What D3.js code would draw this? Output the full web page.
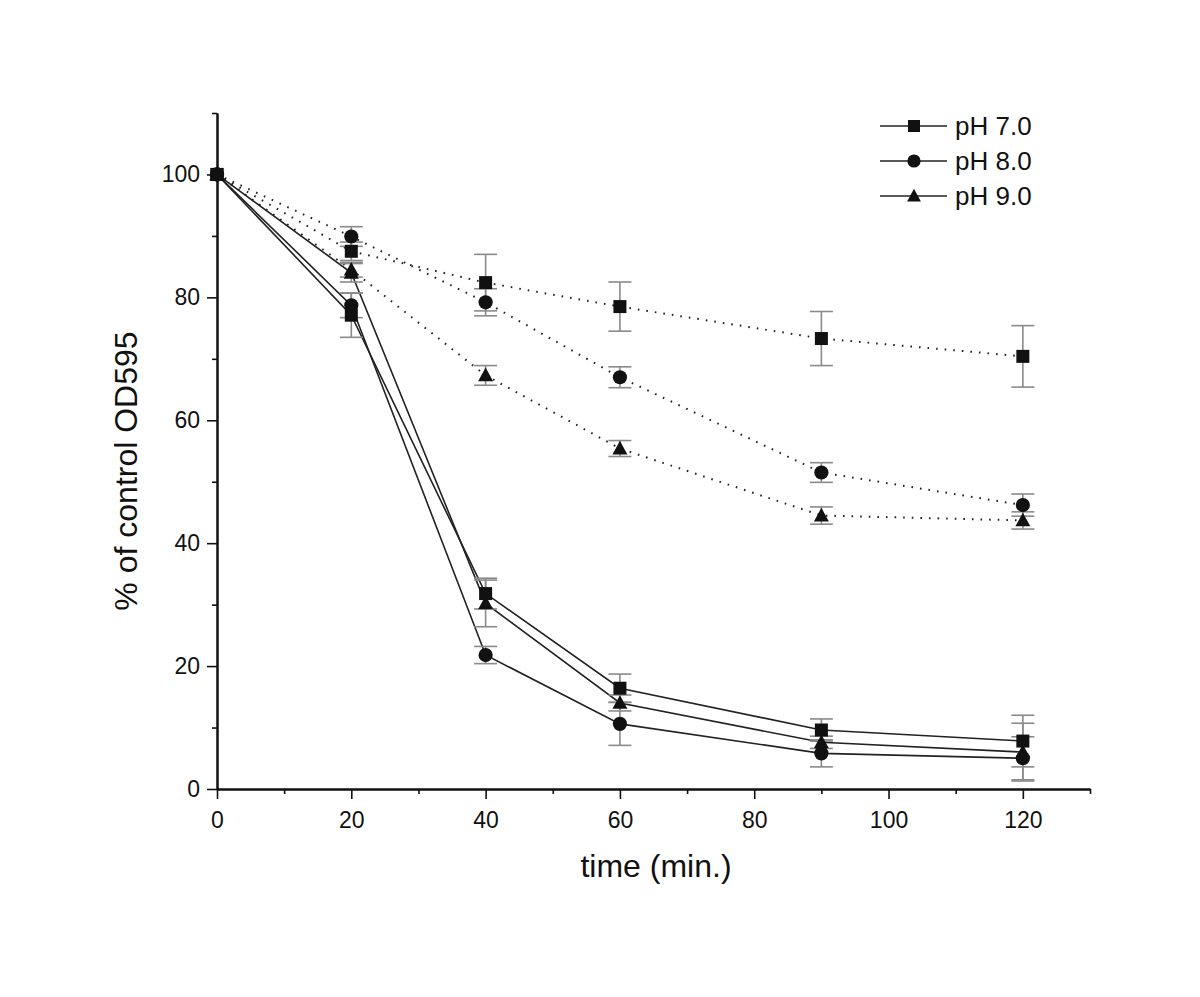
<!DOCTYPE html>
<html>
<head>
<meta charset="utf-8">
<script src="https://cdn.jsdelivr.net/npm/d3@7"></script>
<style>
  html, body { margin: 0; padding: 0; background: #fff; }
  svg { display: block; font-family: "Liberation Sans", Arial, sans-serif; }
</style>
</head>
<body>
<svg id="chart" width="1200" height="997"></svg>
<script>
// ---- data ----
const times = [0, 20, 40, 60, 90, 120];
const xMajorTicks = [0, 20, 40, 60, 80, 100, 120];
const xMinorTicks = [10, 30, 50, 70, 90, 110, 130];
const yMajorTicks = [0, 20, 40, 60, 80, 100];
const yMinorTicks = [10, 30, 50, 70, 90, 110];

// solid-line condition
const ph7Solid = [100, 77.1, 31.8, 16.4, 9.6, 7.8];
const ph7SolidErr = [0, 3.6, 2.5, 2.3, 1.8, 4.2];
const ph8Solid = [100, 78.7, 21.8, 10.6, 5.8, 5.0];
const ph8SolidErr = [0, 2.0, 1.4, 3.5, 2.2, 3.5];
const ph9Solid = [100, 84.0, 30.2, 14.0, 7.6, 6.0];
const ph9SolidErr = [0, 1.5, 3.8, 1.3, 1.0, 4.7];

// dotted-line condition
const ph7Dot = [100, 87.5, 82.4, 78.5, 73.3, 70.4];
const ph7DotErr = [0, 1.5, 4.6, 4.0, 4.4, 5.0];
const ph8Dot = [100, 89.9, 79.2, 67.0, 51.5, 46.2];
const ph8DotErr = [0, 1.6, 2.2, 1.7, 1.6, 1.8];
const ph9Dot = [100, 84.5, 67.3, 55.4, 44.5, 43.7];
const ph9DotErr = [0, 1.2, 1.6, 1.3, 1.4, 1.4];

const legendLabels = ["pH 7.0", "pH 8.0", "pH 9.0"];
const legendShapes = ["square", "circle", "triangle"];

const series = [
  { v: ph7Dot, e: ph7DotErr, shape: "square", dotted: true },
  { v: ph8Dot, e: ph8DotErr, shape: "circle", dotted: true },
  { v: ph9Dot, e: ph9DotErr, shape: "triangle", dotted: true },
  { v: ph7Solid, e: ph7SolidErr, shape: "square", dotted: false },
  { v: ph8Solid, e: ph8SolidErr, shape: "circle", dotted: false },
  { v: ph9Solid, e: ph9SolidErr, shape: "triangle", dotted: false }
];

// ---- scales ----
const svg = d3.select("#chart");
const x = d3.scaleLinear().domain([0, 130]).range([217, 1090]);
const y = d3.scaleLinear().domain([0, 110]).range([789, 113]);

// ---- axes ----
const axisColor = "#111";
function styleAxis(g) {
  g.select(".domain").attr("stroke", axisColor).attr("stroke-width", 2);
  g.selectAll(".tick line").attr("stroke", axisColor).attr("stroke-width", 1.6);
  g.selectAll(".tick text").attr("fill", "#111").attr("font-size", 23);
}
svg.append("g").attr("transform", `translate(0,${y(0)})`)
  .call(d3.axisBottom(x).tickValues(xMinorTicks).tickSize(5).tickFormat("").tickSizeOuter(0))
  .call(styleAxis);
svg.append("g").attr("transform", `translate(0,${y(0)})`)
  .call(d3.axisBottom(x).tickValues(xMajorTicks).tickSize(10).tickPadding(13).tickSizeOuter(0))
  .call(styleAxis);
svg.append("g").attr("transform", `translate(${x(0)},0)`)
  .call(d3.axisLeft(y).tickValues(yMinorTicks).tickSize(5).tickFormat("").tickSizeOuter(0))
  .call(styleAxis);
svg.append("g").attr("transform", `translate(${x(0)},0)`)
  .call(d3.axisLeft(y).tickValues(yMajorTicks).tickSize(10).tickPadding(7).tickSizeOuter(0))
  .call(styleAxis);

// axis titles
svg.append("text")
  .attr("x", 656).attr("y", 877)
  .attr("text-anchor", "middle")
  .attr("font-size", 32).attr("fill", "#111")
  .text("time (min.)");
svg.append("text")
  .attr("transform", "translate(137,471) rotate(-90)")
  .attr("text-anchor", "middle")
  .attr("font-size", 32).attr("fill", "#111")
  .text("% of control OD595");

// ---- marker helper ----
function drawMarker(g, shape, cx, cy, s) {
  if (shape === "square") {
    g.append("rect").attr("x", cx - s / 2).attr("y", cy - s / 2)
      .attr("width", s).attr("height", s).attr("fill", "#111");
  } else if (shape === "circle") {
    g.append("circle").attr("cx", cx).attr("cy", cy).attr("r", s / 2 + 0.6).attr("fill", "#111");
  } else {
    const w = s * 1.15, h = s;
    g.append("path")
      .attr("d", `M${cx},${cy - h * 0.6} L${cx + w / 2},${cy + h * 0.45} L${cx - w / 2},${cy + h * 0.45} Z`)
      .attr("fill", "#111");
  }
}

// ---- lines ----
const line = d3.line().x(d => x(d[0])).y(d => y(d[1]));
const linesG = svg.append("g");
series.forEach(s => {
  linesG.append("path")
    .datum(times.map((t, i) => [t, s.v[i]]))
    .attr("d", line)
    .attr("fill", "none")
    .attr("stroke", "#222")
    .attr("stroke-width", s.dotted ? 2 : 1.6)
    .attr("stroke-dasharray", s.dotted ? "1.6,7" : null);
});

// ---- error bars ----
const errG = svg.append("g").attr("stroke", "#8a8a8a").attr("stroke-width", 1.6);
series.forEach(s => {
  times.forEach((t, i) => {
    const e = s.e[i];
    if (!e) return;
    const cx = x(t), y1 = y(s.v[i] + e), y2 = y(s.v[i] - e);
    errG.append("line").attr("x1", cx).attr("x2", cx).attr("y1", y1).attr("y2", y2);
    errG.append("line").attr("x1", cx - 11.5).attr("x2", cx + 11.5).attr("y1", y1).attr("y2", y1);
    errG.append("line").attr("x1", cx - 11.5).attr("x2", cx + 11.5).attr("y1", y2).attr("y2", y2);
  });
});

// ---- markers ----
const markG = svg.append("g");
series.forEach(s => {
  times.forEach((t, i) => drawMarker(markG, s.shape, x(t), y(s.v[i]), 13));
});

// ---- legend ----
const legG = svg.append("g");
legendLabels.forEach((lab, i) => {
  const ly = 126 + i * 35;
  legG.append("line").attr("x1", 880).attr("x2", 947).attr("y1", ly).attr("y2", ly)
    .attr("stroke", "#222").attr("stroke-width", 1.6);
  drawMarker(legG, legendShapes[i], 914, ly, 12);
  legG.append("text").attr("x", 955).attr("y", ly + 9)
    .attr("font-size", 26).attr("fill", "#111").text(lab);
});
</script>
</body>
</html>
